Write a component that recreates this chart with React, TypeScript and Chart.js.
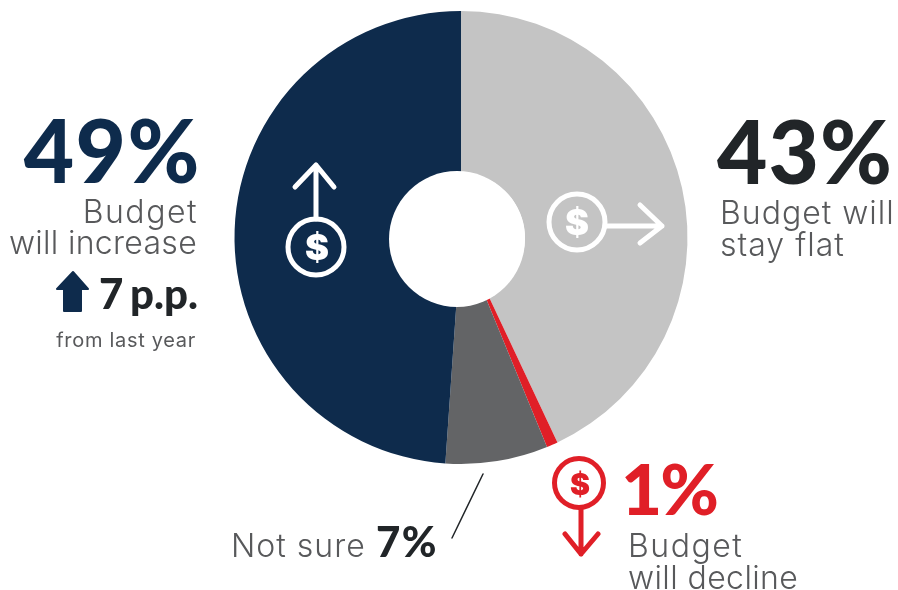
import React, { useEffect, useRef } from "react";
import { Chart, registerables } from "chart.js";

Chart.register(...registerables);

const categories = ["Budget will stay flat", "Budget will decline", "Not sure", "Budget will increase"];
const shares = [43, 0.8, 7.3, 48.9];
const colors = ["#c4c4c4", "#e01f27", "#636466", "#0e2b4c"];

const NAVY = "#0e2b4c";
const INK = "#212528";
const GREY = "#58595b";
const RED = "#e01f27";
const LIGHT = "Inter, sans-serif";
const HEAVY = "Lato, sans-serif";

function T(p: { s: string; x?: number; r?: number; base: number; size: number; w: number; c: string; ls?: number; inter?: boolean }) {
  const heavy = p.w >= 700 && !p.inter;
  const style: React.CSSProperties = {
    position: "absolute",
    top: p.base - p.size * (heavy ? 0.887 : 0.864),
    lineHeight: p.size + "px",
    height: p.size,
    fontFamily: heavy ? HEAVY : LIGHT,
    fontSize: p.size,
    fontWeight: p.w,
    color: p.c,
    letterSpacing: p.ls ?? 0,
    whiteSpace: "nowrap",
  };
  if (p.x !== undefined) style.left = p.x;
  if (p.r !== undefined) style.right = 898 - p.r;
  return <div style={style}>{p.s}</div>;
}

export default function App() {
  const ref = useRef<HTMLCanvasElement>(null);
  useEffect(() => {
    const chart = new Chart(ref.current!, {
      type: "doughnut",
      data: {
        labels: categories,
        datasets: [{ data: shares, backgroundColor: colors, borderWidth: 0 }],
      },
      options: {
        animation: false,
        responsive: false,
        cutout: 64,
        layout: { padding: { left: 234, right: 210, top: 11, bottom: 126 } },
        plugins: { legend: { display: false }, tooltip: { enabled: false } },
      },
    });
    return () => chart.destroy();
  }, []);

  return (
    <div style={{ position: "fixed", left: 0, top: 0, width: 898, height: 590, background: "#fff", overflow: "hidden" }}>
      <canvas ref={ref} width={898} height={590} style={{ position: "absolute", left: 0, top: 0 }} />
      <svg width={898} height={590} style={{ position: "absolute", left: 0, top: 0 }} fill="none" strokeLinecap="round" strokeLinejoin="round">
        <circle cx={457} cy={239} r={68} fill="#fff" />
        <g stroke="#fff" strokeWidth={5}>
          <circle cx={316} cy={247} r={28} />
          <path d="M316 219V165M295 187L316 165L334 187" />
          <circle cx={577} cy={222} r={28} />
          <path d="M605 226H662M640 205L662 226L640 243" />
        </g>
        <g stroke={RED} strokeWidth={5}>
          <circle cx={579} cy={483} r={24.5} />
          <path d="M581 508V554M565 534L581 554L598 534" />
        </g>
        <path d="M73 272L88 289H81V311H64V289H57Z" fill={NAVY} stroke={NAVY} strokeWidth={2} />
        <path d="M483 474L452 538" stroke={INK} strokeWidth={1.5} />
      </svg>
      <T s="49%" r={201} base={183} size={87} w={900} c={NAVY} ls={1.5} />
      <T s="Budget" r={198} base={224} size={32} w={300} c={GREY} ls={1.5} />
      <T s="will increase" r={197} base={255} size={32} w={300} c={GREY} ls={0.3} />
      <T s="7" x={99} base={309} size={42} w={900} c={INK} />
      <T s="p.p." r={198} base={309} size={42} w={900} c={INK} />
      <T s="from last year" r={196} base={347} size={20} w={400} c={GREY} ls={0.7} />
      <T s="43%" x={717} base={184} size={87} w={900} c={INK} ls={1} />
      <T s="Budget will" x={720} base={225} size={32} w={300} c={GREY} ls={1} />
      <T s="stay flat" x={720} base={257} size={32} w={300} c={GREY} ls={1} />
      <T s="1%" x={621} base={515} size={71} w={900} c={RED} ls={-2} />
      <T s="Budget" x={628} base={558} size={32} w={300} c={GREY} ls={1.5} />
      <T s="will decline" x={628} base={590} size={32} w={300} c={GREY} ls={0.4} />
      <T s="Not sure" x={231} base={558} size={32} w={300} c={GREY} ls={1} />
      <T s="7%" x={376} base={557} size={42} w={900} c={INK} ls={1.5} />
      <T s="$" x={305} base={260} size={36} w={900} c="#fff" inter />
      <T s="$" x={565} base={235} size={36} w={900} c="#fff" inter />
      <T s="$" x={570} base={495} size={30} w={900} c={RED} inter />
    </div>
  );
}
